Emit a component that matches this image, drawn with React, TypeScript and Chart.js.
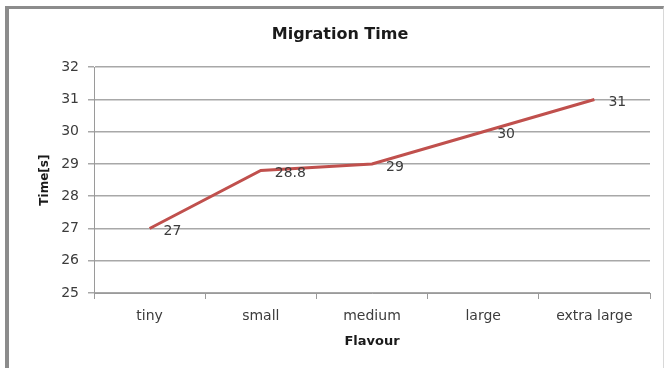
import React, { useEffect, useRef } from "react";
import { Chart, registerables } from "chart.js";

Chart.register(...registerables);

const categories = ["tiny", "small", "medium", "large", "extra large"];
const migrationTime = [27, 28.8, 29, 30, 31];
const valueLabels = ["27", "28.8", "29", "30", "31"];
const yMin = 25;
const yMax = 32;

const FONT = "'DejaVu Sans', sans-serif";
const TEXT = "#3c3c3c";

const labelPlugin = {
  id: "valueLabels",
  afterDatasetsDraw(chart: any) {
    const ctx = chart.ctx;
    const meta = chart.getDatasetMeta(0);
    ctx.save();
    ctx.font = `14px ${FONT}`;
    ctx.fillStyle = TEXT;
    ctx.textAlign = "left";
    ctx.textBaseline = "middle";
    meta.data.forEach((pt: any, i: number) => {
      ctx.fillText(valueLabels[i], pt.x + 14, pt.y + 3);
    });
    ctx.restore();
  },
};

export default function App() {
  const ref = useRef<HTMLCanvasElement | null>(null);
  useEffect(() => {
    if (!ref.current) return;
    const chart = new Chart(ref.current, {
      type: "line",
      data: {
        labels: categories,
        datasets: [
          {
            label: "Migration Time",
            data: migrationTime,
            borderColor: "#c0504d",
            borderWidth: 3,
            pointRadius: 0,
            tension: 0,
            fill: false,
          },
        ],
      },
      options: {
        animation: false,
        responsive: false,
        maintainAspectRatio: false,
        layout: { padding: { left: 30, right: 16, top: 0, bottom: 0 } },
        plugins: {
          legend: { display: false },
          tooltip: { enabled: false },
          title: {
            display: true,
            text: "Migration Time",
            color: "#1a1a1a",
            font: { family: FONT, size: 16, weight: "bold", lineHeight: 1.2 },
            padding: { top: 25, bottom: 23 },
          },
        },
        scales: {
          x: {
            offset: true,
            grid: {
              offset: true,
              drawOnChartArea: false,
              drawTicks: true,
              tickLength: 6,
              color: "#9a9a9a",
            },
            border: { display: true, color: "#9a9a9a", width: 1 },
            ticks: {
              color: TEXT,
              font: { family: FONT, size: 14 },
              padding: 9,
              maxRotation: 0,
            },
            title: {
              display: true,
              text: "Flavour",
              color: "#1a1a1a",
              font: { family: FONT, size: 13, weight: "bold" },
              padding: { top: 0, bottom: 19 },
            },
            afterFit(scale: any) {
              scale.height = 75;
            },
          },
          y: {
            min: yMin,
            max: yMax,
            grid: {
              color: "#a8a8a8",
              lineWidth: 1.5,
              tickLength: 6,
              drawTicks: true,
            },
            border: { display: true, color: "#9a9a9a", width: 1 },
            ticks: {
              stepSize: 1,
              color: TEXT,
              font: { family: FONT, size: 14 },
              padding: 9,
            },
            title: {
              display: true,
              text: "Time[s]",
              color: "#1a1a1a",
              font: { family: FONT, size: 12, weight: "bold" },
              padding: { top: 8, bottom: 0 },
            },
            afterFit(scale: any) {
              scale.width = 64;
            },
          },
        },
      },
      plugins: [labelPlugin],
    });
    return () => chart.destroy();
  }, []);

  return (
    <div
      style={{
        position: "absolute",
        left: 0,
        top: 0,
        width: 666,
        height: 368,
        overflow: "hidden",
        background: "#ffffff",
      }}
    >
      <div
        style={{
          position: "absolute",
          left: 5,
          top: 6,
          width: 654,
          height: 400,
          borderLeft: "4px solid #8c8c8c",
          borderTop: "3px solid #8c8c8c",
          borderRight: "1px solid #d8d8d8",
        }}
      />
      <canvas
        ref={ref}
        width={666}
        height={368}
        style={{ position: "absolute", left: 0, top: 0, width: 666, height: 368 }}
      />
    </div>
  );
}
